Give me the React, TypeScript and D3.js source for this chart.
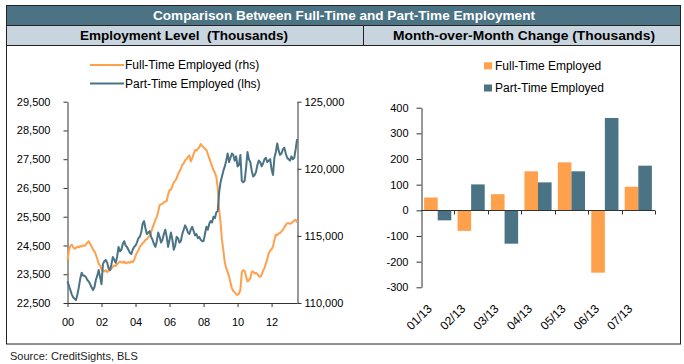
import { useEffect, useRef } from 'react'
import * as d3 from 'd3'

// Monthly levels, Jan 2000 - Jul 2013 (thousands)
const fullTime = [
  113200, 113900, 114250, 114350, 114150, 114050, 114100, 114200, 114150, 114250, 114200, 114300,
  114250, 114350, 114500, 114600, 114400, 114200, 114000, 113850, 113600, 113300, 112900, 112800,
  112500, 112400, 112350, 112450, 112300, 112400, 112450, 112550, 112700, 112800, 112750, 112900,
  113000, 113100, 113050, 113000, 113100, 112950, 113000, 113050, 113000, 113100, 113050, 113200,
  113500, 113750, 113900, 114200, 114300, 114450, 114550, 114700, 114750, 114900, 115000, 115300,
  115600, 115900, 116200, 116400, 116800, 117300, 117350, 117400, 117500, 117550, 117600, 118100,
  118400, 118450, 118700, 119000, 119100, 119300, 119600, 119800, 120000, 120300, 120400, 120650,
  120700, 120900, 121000, 120550, 120800, 121100, 121400, 121350, 121500, 121600, 121850, 121700,
  121600, 121500, 121400, 121100, 120800, 120500, 120200, 119900, 119700, 119400, 118600, 117000,
  116000, 114700, 113900, 113000, 112600, 112300, 112000, 111500, 111100, 110900, 110800, 110650,
  110600, 110700, 111000, 112300, 112450, 112400, 112000, 111600, 111700, 111850, 112300, 112350,
  112200, 112250, 112150, 112000, 111950, 112100, 112400, 112600, 112950, 113300, 113700, 113900,
  114000, 114200, 114700, 115100, 115050, 115200, 115200, 115350, 115450, 115650, 115800, 115950,
  115950, 115900, 115950, 116050, 116150, 116200, 116000,
]

const partTime = [
  23250, 23100, 22950, 22800, 22700, 22650, 22600, 22800, 23050, 23350, 23550, 23450,
  23450, 23400, 23300, 23250, 23150, 23050, 22950, 23050, 23300, 23450, 23650, 23400,
  23150, 23850, 23950, 24000, 23900, 23700, 23650, 23850, 24100, 24000, 23900, 24100,
  24450, 24300, 24350, 24550, 24650, 24500, 24450, 24350, 24250, 24200, 24350, 24450,
  24500, 24600, 24750, 24800, 24950, 25250, 25350, 25100, 24900, 24950, 25000, 24800,
  24700, 24550, 24450, 24650, 24950, 24800, 24600, 24700, 24900, 25050, 24800, 24450,
  24700, 24950, 24700, 24350, 24500, 24800, 24750, 24600, 24650, 24900, 25050, 25200,
  25100, 24950, 24900, 25050, 25150, 25000, 24850, 24900, 24750, 24800, 24700, 24650,
  24650, 24900, 25150, 25050, 25250, 25350, 25300, 25500, 25450, 25650, 25700, 26350,
  26700, 26900, 27100, 27250, 27450, 27700, 27400, 27550, 27700, 27650, 27450, 27600,
  27250, 27300, 27650, 26750, 26700, 26750, 27200, 27750, 27500, 27400, 27100, 26900,
  26950, 27050, 27300, 27450, 27400, 27250, 27350, 27500, 27550, 27400, 27450, 27500,
  27150, 26950, 27550, 27750, 28050, 27800, 27650, 27700, 27850, 27900, 27700, 27550,
  27500, 27450, 27600, 27500, 27550, 27850, 28200,
]

const yearLabels = ['00', '02', '04', '06', '08', '10', '12']

const changeMonths = ['01/13', '02/13', '03/13', '04/13', '05/13', '06/13', '07/13']
const fullTimeChange = [50, -80, 63, 152, 187, -243, 92]
const partTimeChange = [-39, 101, -130, 109, 152, 360, 174]

const ORANGE = '#FFA04D'
const TEAL = '#4A7385'
const FONT = '"Liberation Sans", Arial, sans-serif'
const AXIS = '#333'

export default function App() {
  const svgRef = useRef<SVGSVGElement>(null)

  useEffect(() => {
    if (!svgRef.current) return
    const svg = d3.select(svgRef.current)
    svg.selectAll('*').remove()
    svg.style('font-family', FONT)

    // Frame, banner and header row
    svg.append('rect').attr('x', 6).attr('y', 5).attr('width', 675).attr('height', 20).attr('fill', '#4B7384')
    svg.append('rect').attr('x', 6).attr('y', 25).attr('width', 675).attr('height', 20).attr('fill', '#C9D5DE')
    svg.append('line').attr('x1', 6).attr('x2', 681).attr('y1', 25.5).attr('y2', 25.5).attr('stroke', '#222')
    svg.append('line').attr('x1', 6).attr('x2', 681).attr('y1', 45.5).attr('y2', 45.5).attr('stroke', '#222')
    svg.append('line').attr('x1', 363.5).attr('x2', 363.5).attr('y1', 25).attr('y2', 45).attr('stroke', '#222')
    svg.append('rect').attr('x', 6.5).attr('y', 5.5).attr('width', 674).attr('height', 338.5)
      .attr('fill', 'none').attr('stroke', '#222')

    const headers = [
      { text: 'Comparison Between Full-Time and Part-Time Employment', x: 344, y: 19.8, len: 382, fill: '#fff' },
      { text: 'Employment Level  (Thousands)', x: 184, y: 40, len: 208, fill: '#000' },
      { text: 'Month-over-Month Change (Thousands)', x: 524, y: 40, len: 262, fill: '#000' },
    ]
    headers.forEach(h => {
      svg.append('text').attr('x', h.x).attr('y', h.y).attr('text-anchor', 'middle')
        .attr('fill', h.fill).attr('font-weight', 'bold').attr('font-size', 13)
        .attr('textLength', h.len).attr('lengthAdjust', 'spacingAndGlyphs')
        .style('white-space', 'pre')
        .text(h.text)
    })

    svg.append('text').attr('x', 10).attr('y', 360).attr('font-size', 11).attr('fill', '#222')
      .text('Source: CreditSights, BLS')

    const styleAxis = (g: d3.Selection<SVGGElement, unknown, null, undefined>) => {
      g.select('.domain').attr('stroke', AXIS)
      g.selectAll('.tick line').attr('stroke', AXIS)
      g.selectAll('.tick text').attr('fill', '#000').attr('font-size', 11).attr('font-family', FONT)
    }

    // ---- Left chart: levels ----
    const plotTop = 101.7
    const plotBottom = 303
    const x = d3.scaleLinear().domain([0, 163]).range([67.5, 298.5])
    const yL = d3.scaleLinear().domain([22500, 29500]).range([plotBottom, plotTop])
    const yR = d3.scaleLinear().domain([110000, 125000]).range([plotBottom, plotTop])

    svg.append('g').attr('transform', 'translate(67.5,0)')
      .call(d3.axisLeft(yL).tickValues(d3.range(22500, 29501, 1000)).tickFormat(d3.format(',')).tickSize(4).tickPadding(13).tickSizeOuter(0))
      .call(styleAxis)

    svg.append('g').attr('transform', 'translate(297.5,0)')
      .call(d3.axisRight(yR).tickValues(d3.range(110000, 125001, 5000)).tickFormat(d3.format(',')).tickSize(4).tickPadding(3).tickSizeOuter(0))
      .call(styleAxis)

    svg.append('g').attr('transform', `translate(0,${plotBottom})`)
      .call(d3.axisBottom(x).tickValues(yearLabels.map((_, i) => i * 24)).tickFormat((_, i) => yearLabels[i]).tickSize(4).tickPadding(11).tickSizeOuter(0))
      .call(styleAxis)
      .call(g => g.select('.domain').attr('d', `M67.5,0.5H297.5`))

    const lineFT = d3.line<number>().x((_, i) => x(i)).y(d => yR(d))
    const linePT = d3.line<number>().x((_, i) => x(i)).y(d => yL(d))

    svg.append('path').datum(fullTime).attr('d', lineFT).attr('fill', 'none')
      .attr('stroke', ORANGE).attr('stroke-width', 2).attr('stroke-linejoin', 'round')
    svg.append('path').datum(partTime).attr('d', linePT).attr('fill', 'none')
      .attr('stroke', TEAL).attr('stroke-width', 2).attr('stroke-linejoin', 'round')

    // legend (left)
    const legL = [
      { label: 'Full-Time Employed (rhs)', color: ORANGE, y: 65 },
      { label: 'Part-Time Employed (lhs)', color: TEAL, y: 83.5 },
    ]
    legL.forEach(d => {
      svg.append('line').attr('x1', 90).attr('x2', 124).attr('y1', d.y).attr('y2', d.y)
        .attr('stroke', d.color).attr('stroke-width', 2)
      svg.append('text').attr('x', 125).attr('y', d.y + 4.2).attr('font-size', 12).text(d.label)
    })

    // ---- Right chart: monthly change ----
    const x0 = d3.scaleBand<string>().domain(changeMonths).range([421, 655])
    const x1 = d3.scaleBand<string>().domain(['ft', 'pt']).range([0, x0.bandwidth()]).paddingOuter(0.23)
    const yB = d3.scaleLinear().domain([-300, 400]).range([287.3, 107.7])

    const bars = changeMonths.flatMap((m, i) => [
      { m, key: 'ft', value: fullTimeChange[i], color: ORANGE },
      { m, key: 'pt', value: partTimeChange[i], color: TEAL },
    ])
    svg.append('g').selectAll('rect').data(bars).join('rect')
      .attr('x', d => (x0(d.m) as number) + (x1(d.key) as number))
      .attr('width', x1.bandwidth())
      .attr('y', d => yB(Math.max(0, d.value)))
      .attr('height', d => Math.abs(yB(d.value) - yB(0)))
      .attr('fill', d => d.color)

    svg.append('g').attr('transform', 'translate(421.5,0)')
      .call(d3.axisLeft(yB).tickValues(d3.range(-300, 401, 100)).tickFormat(d => String(d)).tickSize(5).tickPadding(8).tickSizeOuter(0))
      .call(styleAxis)

    // zero line with category boundary ticks
    const zeroY = Math.round(yB(0)) + 0.5
    const zg = svg.append('g')
    zg.append('line').attr('x1', 421).attr('x2', 655).attr('y1', zeroY).attr('y2', zeroY).attr('stroke', AXIS)
    zg.selectAll('line.tk').data(changeMonths).join('line').attr('class', 'tk')
      .attr('x1', d => Math.round((x0(d) as number) + x0.bandwidth()) + 0.5)
      .attr('x2', d => Math.round((x0(d) as number) + x0.bandwidth()) + 0.5)
      .attr('y1', zeroY).attr('y2', zeroY + 4).attr('stroke', AXIS)

    svg.append('g').selectAll('text').data(changeMonths).join('text')
      .attr('transform', d => `translate(${(x0(d) as number) + x0.bandwidth() / 2 - 5},309.5) rotate(-45)`)
      .attr('text-anchor', 'end').attr('font-size', 12)
      .text(d => d)

    // legend (right)
    const legR = [
      { label: 'Full-Time Employed', color: ORANGE, y: 62.3 },
      { label: 'Part-Time Employed', color: TEAL, y: 84.5 },
    ]
    legR.forEach(d => {
      svg.append('rect').attr('x', 484).attr('y', d.y).attr('width', 8).attr('height', 7).attr('fill', d.color)
      svg.append('text').attr('x', 495).attr('y', d.y + 7.3).attr('font-size', 12).text(d.label)
    })

    return () => {
      svg.selectAll('*').remove()
    }
  }, [])

  return (
    <svg
      ref={svgRef}
      width={684}
      height={364}
      style={{ position: 'absolute', left: 0, top: 0, background: '#fff' }}
    />
  )
}
